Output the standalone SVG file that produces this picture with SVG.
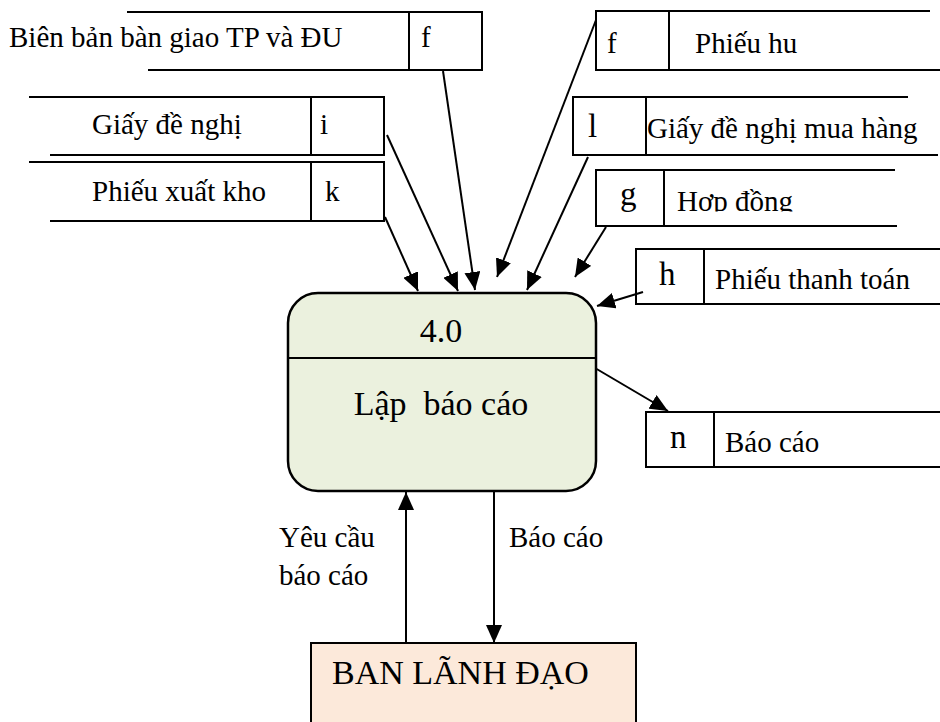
<svg xmlns="http://www.w3.org/2000/svg" width="940" height="722" viewBox="0 0 940 722">
  <style>
    text { font-family: "Liberation Serif", "Times New Roman", serif; fill: #000; }
    .lbl { font-size: 29px; }
    .key { font-size: 33px; }
    .big { font-size: 34px; }
    .store { fill: none; stroke: #000; stroke-width: 2; }
    .flow { fill: none; stroke: #000; stroke-width: 2; marker-end: url(#arrow); }
  </style>
  <defs>
    <marker id="arrow" markerUnits="userSpaceOnUse" markerWidth="18" markerHeight="16" refX="18" refY="8" orient="auto">
      <path d="M0,0 L18,8 L0,16 z" fill="#000"/>
    </marker>
    <clipPath id="clipHopDong"><rect x="670" y="172" width="225" height="39.5"/></clipPath>
    <clipPath id="clipThanhToan"><rect x="710" y="251" width="228" height="38.5"/></clipPath>
  </defs>

  <rect width="940" height="722" fill="#fff"/>

  <!-- connectors -->
  <g id="connectors">
    <line class="flow" x1="385" y1="217" x2="418" y2="291"/>
    <line class="flow" x1="387" y1="135" x2="458" y2="291"/>
    <line class="flow" x1="443" y1="71" x2="475" y2="290"/>
    <line class="flow" x1="596" y1="20" x2="497" y2="277"/>
    <line class="flow" x1="588" y1="157" x2="527" y2="290"/>
    <line class="flow" x1="606" y1="227" x2="575" y2="277"/>
    <line class="flow" x1="643" y1="292" x2="597" y2="306"/>
    <line class="flow" x1="595" y1="368" x2="668" y2="411"/>
    <line class="flow" x1="406" y1="643" x2="406" y2="492"/>
    <line class="flow" x1="494" y1="491" x2="494" y2="643"/>
    <text class="lbl" x="279" y="547">Yêu cầu</text>
    <text class="lbl" x="279" y="585">báo cáo</text>
    <text class="lbl" x="509" y="547">Báo cáo</text>
  </g>

  <!-- process 4.0 -->
  <g id="process-4-0">
    <rect x="288" y="293" width="308" height="198" rx="30" ry="30" fill="#EBF1DE" stroke="#000" stroke-width="2.5"/>
    <line x1="288" y1="358" x2="596" y2="358" stroke="#000" stroke-width="2"/>
    <text class="big" x="441" y="342" text-anchor="middle">4.0</text>
    <text class="big" x="441" y="415" text-anchor="middle" xml:space="preserve" style="white-space:pre">Lập  báo cáo</text>
  </g>

  <!-- external entity -->
  <g id="ban-lanh-dao">
    <rect x="311" y="643" width="325" height="90" fill="#FCE9DA" stroke="#000" stroke-width="2"/>
    <text class="big" x="332" y="684">BAN LÃNH ĐẠO</text>
  </g>

  <!-- data stores -->
  <g id="store-bien-ban">
    <path class="store" d="M127,12 H482 V70 H148"/>
    <path class="store" d="M409,12 V70"/>
    <text class="lbl" x="9" y="47">Biên bản bàn giao TP và ĐU</text>
    <text class="lbl" x="421" y="47">f</text>
  </g>

  <g id="store-giay-de-nghi">
    <path class="store" d="M29,97 H384 V155 H50"/>
    <path class="store" d="M311,97 V155"/>
    <text class="lbl" x="92" y="134">Giấy đề nghị</text>
    <text class="lbl" x="320" y="134">i</text>
  </g>

  <g id="store-phieu-xuat-kho">
    <path class="store" d="M29,162 H384 V221 H50"/>
    <path class="store" d="M311,162 V221"/>
    <text class="lbl" x="92" y="201">Phiếu xuất kho</text>
    <text class="lbl" x="325" y="201">k</text>
  </g>

  <g id="store-phieu-hu">
    <path class="store" d="M930,11 H596 V70 H940"/>
    <path class="store" d="M669,11 V70"/>
    <text class="lbl" x="607" y="53">f</text>
    <text class="lbl" x="695" y="53">Phiếu hu</text>
  </g>

  <g id="store-giay-de-nghi-mua-hang">
    <path class="store" d="M908,97 H573 V155 H938"/>
    <path class="store" d="M646,97 V155"/>
    <text class="key" x="588" y="137">l</text>
    <text class="lbl" x="647" y="138">Giấy đề nghị mua hàng</text>
  </g>

  <g id="store-hop-dong">
    <path class="store" d="M895,170 H596 V226 H897"/>
    <path class="store" d="M664,170 V226"/>
    <text class="key" x="620" y="205">g</text>
    <text class="lbl" x="677" y="211" clip-path="url(#clipHopDong)">Hợp đồng</text>
  </g>

  <g id="store-phieu-thanh-toan">
    <path class="store" d="M940,249 H636 V304 H940"/>
    <path class="store" d="M704,249 V304"/>
    <text class="key" x="659" y="285">h</text>
    <text class="lbl" x="715" y="289" clip-path="url(#clipThanhToan)">Phiếu thanh toán</text>
  </g>

  <g id="store-bao-cao">
    <path class="store" d="M940,412 H646 V467 H940"/>
    <path class="store" d="M714,412 V467"/>
    <text class="key" x="670" y="448">n</text>
    <text class="lbl" x="725" y="452">Báo cáo</text>
  </g>
</svg>
